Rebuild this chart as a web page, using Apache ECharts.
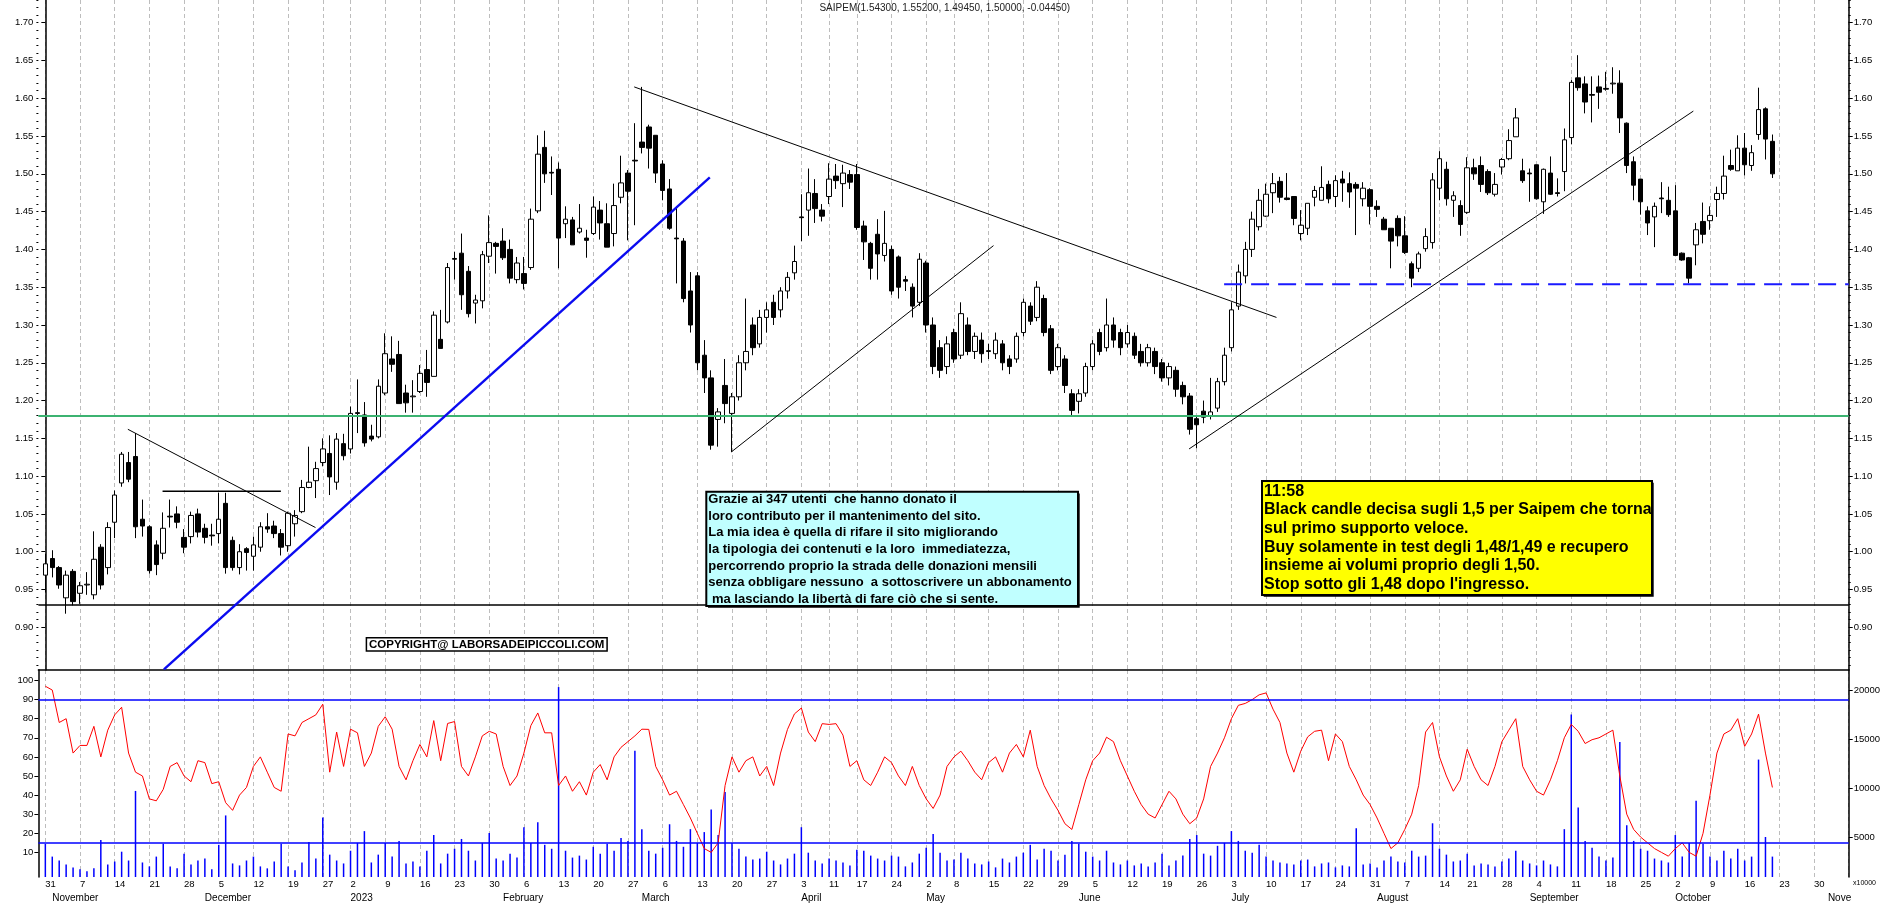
<!DOCTYPE html>
<html><head><meta charset="utf-8">
<script src="https://cdn.jsdelivr.net/npm/echarts@6/dist/echarts.min.js"></script>
<style>html,body{margin:0;padding:0;background:#fff}#c{width:1890px;height:903px}</style>
</head><body><div id="c"></div>
<script>
// ---------------- calendar (categories) ----------------
const calendarStart = '2022-10-28';
const calendarEnd = '2023-11-06';
const marketHolidays = ['2022-12-26','2023-04-07','2023-04-10','2023-05-01','2023-08-15'];
const firstCandleDate = '2022-10-31';
const monthNames = ['January','February','March','April','May','June','July','August','September','October','November','December'];

// ---------------- daily prices [open, high, low, close] from 2022-10-31 ----------------
const ohlc = [
[0.969,0.997,0.946,0.984],[0.991,1.002,0.966,0.979],[0.979,0.981,0.951,0.956],[0.939,0.975,0.918,0.969],[0.974,0.977,0.929,0.934],
[0.945,0.960,0.931,0.955],[0.956,0.973,0.943,0.957],[0.943,1.027,0.937,0.990],[1.006,1.010,0.950,0.956],[0.979,1.039,0.970,1.032],
[1.039,1.081,1.018,1.075],[1.091,1.132,1.086,1.129],[1.118,1.132,1.092,1.096],[1.126,1.157,1.018,1.033],[1.043,1.069,1.020,1.034],
[1.033,1.035,0.971,0.975],[1.009,1.015,0.969,0.983],[0.998,1.052,0.990,1.031],[1.047,1.069,1.032,1.046],[1.050,1.060,1.031,1.039],
[1.019,1.030,0.998,1.006],[1.020,1.053,1.011,1.048],[1.050,1.057,1.019,1.026],[1.031,1.037,1.011,1.019],[1.022,1.037,1.008,1.021],
[1.024,1.078,1.011,1.043],[1.064,1.078,0.971,0.979],[1.015,1.020,0.975,0.979],[0.979,1.010,0.970,1.000],[1.004,1.006,0.975,0.999],
[0.994,1.020,0.975,1.009],[1.006,1.039,1.000,1.033],[1.033,1.051,1.025,1.030],[1.034,1.041,1.018,1.024],[1.024,1.030,0.995,1.006],
[1.008,1.053,1.000,1.051],[1.037,1.055,1.020,1.048],[1.053,1.095,1.051,1.085],[1.085,1.139,1.084,1.092],[1.094,1.119,1.071,1.110],
[1.118,1.150,1.113,1.136],[1.130,1.154,1.075,1.099],[1.092,1.157,1.082,1.149],[1.143,1.156,1.121,1.127],[1.136,1.192,1.130,1.183],
[1.184,1.228,1.157,1.183],[1.181,1.198,1.139,1.144],[1.153,1.168,1.146,1.149],[1.152,1.228,1.150,1.219],[1.210,1.289,1.207,1.262],
[1.255,1.285,1.238,1.248],[1.261,1.279,1.196,1.196],[1.210,1.221,1.184,1.197],[1.205,1.227,1.184,1.206],[1.212,1.247,1.210,1.236],
[1.241,1.267,1.205,1.224],[1.232,1.318,1.232,1.313],[1.281,1.320,1.269,1.269],[1.304,1.382,1.302,1.376],[1.388,1.397,1.360,1.387],
[1.395,1.421,1.320,1.340],[1.371,1.378,1.310,1.315],[1.329,1.340,1.302,1.333],[1.332,1.398,1.322,1.393],[1.391,1.445,1.382,1.409],
[1.408,1.410,1.368,1.404],[1.411,1.428,1.386,1.389],[1.400,1.413,1.355,1.362],[1.360,1.390,1.355,1.382],[1.368,1.390,1.347,1.355],
[1.376,1.454,1.373,1.440],[1.451,1.551,1.448,1.526],[1.535,1.557,1.488,1.500],[1.502,1.523,1.472,1.501],[1.506,1.515,1.375,1.415],
[1.434,1.457,1.415,1.440],[1.439,1.443,1.406,1.406],[1.423,1.460,1.421,1.428],[1.415,1.426,1.389,1.412],[1.421,1.470,1.419,1.456],
[1.452,1.464,1.413,1.435],[1.434,1.461,1.403,1.403],[1.421,1.487,1.404,1.458],[1.469,1.524,1.461,1.488],[1.501,1.505,1.412,1.477],
[1.518,1.567,1.432,1.517],[1.542,1.615,1.527,1.535],[1.562,1.565,1.507,1.534],[1.551,1.551,1.488,1.501],[1.513,1.518,1.465,1.478],
[1.480,1.493,1.426,1.428],[1.415,1.457,1.355,1.414],[1.411,1.415,1.330,1.335],[1.345,1.370,1.290,1.300],[1.365,1.370,1.240,1.250],
[1.260,1.280,1.210,1.230],[1.230,1.240,1.135,1.141],[1.175,1.190,1.139,1.185],[1.220,1.255,1.170,1.196],[1.183,1.210,1.132,1.205],
[1.205,1.260,1.200,1.250],[1.250,1.335,1.240,1.265],[1.300,1.310,1.260,1.270],[1.275,1.320,1.270,1.310],[1.310,1.330,1.290,1.320],
[1.330,1.340,1.300,1.310],[1.320,1.350,1.310,1.345],[1.345,1.370,1.335,1.363],[1.369,1.405,1.360,1.384],[1.443,1.473,1.411,1.442],
[1.452,1.507,1.418,1.475],[1.474,1.493,1.435,1.454],[1.452,1.460,1.437,1.444],[1.470,1.514,1.460,1.493],[1.497,1.513,1.480,1.491],
[1.487,1.512,1.456,1.501],[1.499,1.505,1.480,1.489],[1.499,1.513,1.426,1.429],[1.431,1.438,1.386,1.410],[1.408,1.410,1.360,1.375],
[1.420,1.440,1.360,1.394],[1.392,1.451,1.384,1.408],[1.400,1.405,1.340,1.345],[1.390,1.392,1.335,1.350],[1.360,1.365,1.345,1.358],
[1.350,1.355,1.310,1.325],[1.330,1.395,1.325,1.387],[1.382,1.385,1.290,1.300],[1.300,1.310,1.235,1.245],[1.270,1.280,1.230,1.240],
[1.245,1.285,1.235,1.275],[1.290,1.295,1.250,1.255],[1.260,1.330,1.255,1.315],[1.300,1.310,1.260,1.265],[1.265,1.290,1.255,1.285],
[1.280,1.290,1.250,1.262],[1.266,1.275,1.255,1.265],[1.262,1.290,1.255,1.280],[1.275,1.280,1.240,1.250],[1.255,1.260,1.235,1.245],
[1.255,1.290,1.250,1.285],[1.290,1.335,1.285,1.330],[1.325,1.330,1.300,1.305],[1.310,1.358,1.305,1.350],[1.335,1.340,1.285,1.290],
[1.295,1.300,1.235,1.240],[1.245,1.275,1.240,1.270],[1.255,1.260,1.210,1.220],[1.209,1.215,1.180,1.187],[1.199,1.215,1.183,1.209],
[1.210,1.250,1.205,1.245],[1.245,1.280,1.240,1.275],[1.290,1.295,1.260,1.265],[1.270,1.335,1.265,1.300],[1.300,1.310,1.270,1.280],
[1.290,1.295,1.260,1.270],[1.275,1.300,1.270,1.290],[1.285,1.290,1.255,1.260],[1.265,1.275,1.245,1.250],[1.250,1.275,1.245,1.270],
[1.265,1.270,1.235,1.245],[1.250,1.255,1.225,1.230],[1.230,1.250,1.220,1.245],[1.240,1.245,1.205,1.215],[1.220,1.225,1.195,1.205],
[1.206,1.210,1.155,1.162],[1.176,1.180,1.137,1.168],[1.186,1.200,1.170,1.178],[1.180,1.230,1.175,1.185],[1.190,1.230,1.185,1.225],
[1.225,1.270,1.220,1.260],[1.270,1.330,1.265,1.320],[1.325,1.380,1.320,1.370],[1.365,1.410,1.355,1.400],[1.400,1.450,1.390,1.440],
[1.430,1.480,1.425,1.465],[1.444,1.487,1.443,1.473],[1.475,1.501,1.448,1.487],[1.490,1.496,1.462,1.469],[1.468,1.501,1.465,1.466],
[1.470,1.470,1.432,1.441],[1.421,1.452,1.412,1.432],[1.428,1.461,1.419,1.461],[1.469,1.484,1.457,1.478],[1.465,1.510,1.465,1.482],
[1.486,1.491,1.461,1.467],[1.470,1.498,1.456,1.491],[1.493,1.504,1.463,1.488],[1.487,1.502,1.455,1.476],[1.486,1.489,1.419,1.481],
[1.467,1.489,1.457,1.481],[1.479,1.481,1.433,1.457],[1.457,1.465,1.443,1.453],[1.440,1.443,1.426,1.426],[1.428,1.428,1.375,1.411],
[1.441,1.445,1.404,1.418],[1.418,1.444,1.394,1.396],[1.381,1.384,1.350,1.362],[1.375,1.397,1.370,1.394],[1.401,1.428,1.397,1.417],
[1.409,1.501,1.401,1.492],[1.481,1.530,1.465,1.520],[1.506,1.516,1.458,1.467],[1.465,1.477,1.443,1.471],[1.458,1.465,1.418,1.433],
[1.449,1.522,1.447,1.508],[1.508,1.520,1.492,1.500],[1.511,1.523,1.476,1.486],[1.503,1.506,1.472,1.475],[1.473,1.501,1.470,1.486],
[1.509,1.521,1.499,1.519],[1.520,1.559,1.518,1.544],[1.549,1.587,1.549,1.574],[1.504,1.520,1.488,1.491],[1.501,1.507,1.463,1.500],
[1.512,1.512,1.466,1.467],[1.463,1.507,1.447,1.506],[1.501,1.523,1.472,1.473],[1.475,1.494,1.470,1.474],[1.503,1.560,1.477,1.545],
[1.548,1.624,1.539,1.621],[1.627,1.657,1.610,1.614],[1.619,1.629,1.580,1.595],[1.605,1.629,1.568,1.604],[1.615,1.630,1.586,1.608],
[1.613,1.635,1.610,1.612],[1.619,1.641,1.606,1.620],[1.620,1.637,1.554,1.574],[1.567,1.568,1.501,1.511],[1.516,1.523,1.465,1.485],
[1.493,1.493,1.446,1.463],[1.451,1.457,1.419,1.435],[1.443,1.462,1.403,1.457],[1.468,1.489,1.448,1.467],[1.465,1.483,1.443,1.446],
[1.451,1.485,1.391,1.392],[1.395,1.396,1.385,1.386],[1.389,1.390,1.355,1.362],[1.406,1.435,1.379,1.426],[1.437,1.462,1.408,1.420],
[1.438,1.457,1.426,1.445],[1.466,1.483,1.443,1.474],[1.474,1.524,1.466,1.497],[1.511,1.532,1.504,1.506],[1.504,1.551,1.504,1.534],
[1.534,1.554,1.498,1.512],[1.511,1.538,1.504,1.528],[1.552,1.614,1.545,1.585],[1.586,1.588,1.519,1.546],[1.543,1.552,1.4945,1.500]
];

// ---------------- lower panel: oscillator (0-100) and volume ----------------
const oscillator = [
97,95,78,80,62,66,66,76,60,74, 82,86,62,52,50,38,37,43,55,57,
50,47,58,57,46,47,36,32,40,44, 55,60,52,44,42,72,71,78,80,82,
87.6,52,73,55,74.5,72.6,55,62,76,81, 74.5,55,48,58,66.5,60,79,58,77.5,78.5,
55,50,60,71,73.4,72,55,45,50,62, 76.4,83,72.6,72.6,45,50,42,47,40,52,
56,48,60,65,68,71,74.5,74.4,55,48, 40,42,35,28,20,12,10,15,45,60,
52,58,60,50,55,45,62,74.4,82.5,85.6, 73,68,77.4,77,77.4,71.4,55,58,48,45,
52,60,57,50,45,55,45,38,33,40, 55,60,63,58,52,48,57,60,52,62,
66.5,60,74,55,45,38,32,25,22,35, 48,58,62,70.3,68,58,50,42,35,30,
28,35,42,38,30,25,28,38,55,62, 70,80,87,88,90,92.5,93.5,85,78,62,
52,63,70.5,73.4,74,58,72,68,55,48, 40,35,28,20,12,15,22,30,45,73,
78,60,50,42,48,64,55,48,45,55, 68,74,80,55,48,42,40,48,58,70,
77,73.4,67,69,70,72,74,50,30,22, 18,15,12,10,8,12,15,10,8,20,
40,62,72,74,80,65.5,72,82.4,62,44
];
const volume = [
4300,3000,2600,2200,1900,1700,1500,1800,4700,2200, 2500,3500,2600,9700,2400,2000,3000,4300,2000,1800,
3300,2200,2600,2800,1700,4200,7200,2300,2100,2600, 3000,2000,1800,2500,4300,2000,1600,2400,4500,2800,
7000,3200,2600,2300,3600,4400,5600,2400,3200,4400, 3000,4600,2300,2500,2000,3600,5200,2300,3300,3800,
4800,3600,2600,4400,5400,2800,2600,3300,2900,6000, 4400,6500,4200,3800,20300,3600,2900,3100,2700,4000,
3300,4300,3600,4900,4600,13800,5800,3600,3300,3900, 6300,4600,4000,5800,4400,5500,7800,5200,9600,4400,
3800,3000,2700,2800,3500,2600,2200,2800,3300,6000, 3400,2600,2300,2800,2600,2400,2100,3700,3600,3100,
2800,2600,3100,3000,2000,2400,3300,3900,5300,3400, 2600,2700,3400,2800,2300,2200,2500,1900,2800,2400,
3000,3400,4200,2700,3800,3600,2600,3200,4600,4300, 3500,3000,2600,3600,2400,2200,2600,2100,2300,2000,
2400,3300,2100,2600,3100,4800,5200,3300,3100,4100, 4400,5600,4600,3600,3400,4200,3000,2600,2400,2300,
2200,2600,2700,2000,2300,2400,1900,2100,2000,5900, 2200,2300,1900,2600,3000,2500,2400,3600,3000,3100,
6400,3800,3200,2500,2600,3300,2100,2300,2200,2000, 2500,2800,3600,2600,2300,2100,2600,2200,2000,5800,
17500,8000,4600,3900,3000,2600,2900,14700,6200,4600, 3800,3600,2800,2600,2400,5200,3000,4400,8700,4300,
3000,2600,3600,2800,3800,2600,3000,12900,5000,3000
];

// ---------------- axes ----------------
const priceRange = [0.8435, 1.730];
const priceTickLabels = [0.90,0.95,1.00,1.05,1.10,1.15,1.20,1.25,1.30,1.35,1.40,1.45,1.50,1.55,1.60,1.65,1.70];
const oscRange = [-2.9, 105.5];
const oscTickLabels = [10,20,30,40,50,60,70,80,90,100];
const volRange = [918, 22041];
const volTickLabels = [5000,10000,15000,20000];

// ---------------- drawn studies (x = trading-day index from 2022-10-31) ----------------
const greenLevel = [1.181];
const blackLevel = [0.9265];
const oscLevels = [90, 15];
const blueTrend = [[17.1, 0.8443], [95.8, 1.4954]];
const thinTrends = [
  [[11.9, 1.162], [38.95, 1.032]],
  [[84.9, 1.615], [177.5, 1.310]],
  [[98.9, 1.132], [136.7, 1.405]],
  [[164.9, 1.136], [237.6, 1.583]]
];
const flatLine = [[16.9, 1.080], [33.96, 1.080]];
const dashedLevel = [[169.95, 1.354], [260, 1.354]];

// ---------------- build ----------------
function buildTradingDays(s, e, hol) {
  const out = [];
  let t = Date.parse(s + 'T00:00:00Z');
  const end = Date.parse(e + 'T00:00:00Z');
  while (t <= end) {
    const d = new Date(t);
    const w = d.getUTCDay();
    const iso = d.toISOString().slice(0, 10);
    if (w !== 0 && w !== 6 && hol.indexOf(iso) < 0) out.push(iso);
    t += 86400000;
  }
  return out;
}
const dates = buildTradingDays(calendarStart, calendarEnd, marketHolidays);
const off = dates.indexOf(firstCandleDate);
const lastIdx = dates.length - 1;
const dow = dates.map(s => new Date(s + 'T00:00:00Z').getUTCDay());
const isWeekStart = dates.map((s, k) => k > 0 && dow[k] < dow[k - 1]);
const isMonthStart = dates.map((s, k) => k > 0 && s.slice(5, 7) !== dates[k - 1].slice(5, 7));
const xMin = -off, xMax = lastIdx - off;

const candleData = dates.map((s, k) => {
  const r = ohlc[k - off];
  return r ? [r[0], r[3], r[2], r[1]] : '-';
});
const oscData = dates.map((s, k) => { const v = oscillator[k - off]; return v == null ? '-' : v; });
const volData = dates.map((s, k) => { const v = volume[k - off]; return v == null ? '-' : v; });
const minorTicks = [];
for (let v = 85; v <= 173; v++) minorTicks.push(v / 100);

const FONT = 'Liberation Sans';
const gridL = 38.4, gridR = 41.3;
const dashStyle = { type: [4, 3], color: '#bdbdbd', width: 1 };

function valueAxis(grid, pos, range, labels, fmt) {
  return {
    type: 'value', gridIndex: grid, position: pos, min: range[0], max: range[1],
    axisLine: { show: true, lineStyle: { color: '#000', width: 1.5 } },
    axisTick: { show: true, length: 4, customValues: labels, lineStyle: { color: '#000' } },
    axisLabel: { show: true, customValues: labels, formatter: fmt, color: '#000', fontSize: 9.5, fontFamily: FONT, margin: 5 },
    splitLine: { show: false }
  };
}
function minorAxis(pos) {
  return {
    type: 'value', gridIndex: 0, position: pos, min: priceRange[0], max: priceRange[1],
    axisLine: { show: false },
    axisTick: { show: true, length: 2, customValues: minorTicks, lineStyle: { color: '#000' } },
    axisLabel: { show: false }, splitLine: { show: false }
  };
}

const lineSeries = (pts, color, width, type, z) => ({
  type: 'line', xAxisIndex: 2, yAxisIndex: 0, data: pts, symbol: 'none', silent: true,
  lineStyle: { color: color, width: width, type: type || 'solid' }, z: z || 5, animation: false
});

const option = {
  animation: false,
  backgroundColor: '#fff',
  grid: [
    { left: gridL, right: gridR, top: 0, height: 670 },
    { left: gridL, right: gridR, top: 670, bottom: 26 }
  ],
  xAxis: [
    { type: 'category', gridIndex: 0, data: dates, boundaryGap: false, position: 'bottom',
      axisLine: { show: true, lineStyle: { color: '#000', width: 1.5 } }, axisTick: { show: false }, axisLabel: { show: false },
      splitLine: { show: true, interval: (i) => isWeekStart[i], lineStyle: dashStyle } },
    { type: 'category', gridIndex: 1, data: dates, boundaryGap: false, position: 'bottom',
      axisLine: { show: false }, axisTick: { show: false },
      axisLabel: { show: true, interval: (i) => isWeekStart[i] && i < lastIdx, formatter: (v) => String(+v.slice(8, 10)),
        align: 'left', color: '#000', fontSize: 9.5, fontFamily: FONT, margin: 2 },
      splitLine: { show: true, interval: (i) => isWeekStart[i], lineStyle: dashStyle } },
    { type: 'value', gridIndex: 0, min: xMin, max: xMax, show: false },
    { type: 'category', gridIndex: 1, data: dates, boundaryGap: false, position: 'bottom', offset: 14,
      axisLine: { show: false }, axisTick: { show: false }, splitLine: { show: false },
      axisLabel: { show: true, interval: (i) => isMonthStart[i] && dates[i] < '2023-11-01',
        formatter: (v) => { const m = +v.slice(5, 7) - 1; return m === 0 ? v.slice(0, 4) : monthNames[m]; },
        align: 'left', color: '#000', fontSize: 10, fontFamily: FONT, margin: 2 } },
    { type: 'category', gridIndex: 1, data: dates, boundaryGap: false, position: 'bottom', offset: 14,
      axisLine: { show: false }, axisTick: { show: false }, splitLine: { show: false },
      axisLabel: { show: true, interval: (i) => dates[i] === '2023-11-01',
        formatter: (v) => monthNames[+v.slice(5, 7) - 1],
        width: 30, overflow: 'truncate', ellipsis: '',
        align: 'left', color: '#000', fontSize: 10, fontFamily: FONT, margin: 2 } }
  ],
  yAxis: [
    valueAxis(0, 'left', priceRange, priceTickLabels, v => v.toFixed(2)),
    valueAxis(0, 'right', priceRange, priceTickLabels, v => v.toFixed(2)),
    valueAxis(1, 'left', oscRange, oscTickLabels, v => String(v)),
    valueAxis(1, 'right', volRange, volTickLabels, v => String(v)),
    minorAxis('left'),
    minorAxis('right')
  ],
  series: [
    { type: 'candlestick', xAxisIndex: 0, yAxisIndex: 0, data: candleData, barWidth: 5,
      itemStyle: { color: '#ffffff', color0: '#000000', borderColor: '#000000', borderColor0: '#000000', borderWidth: 1 },
      z: 3,
      markLine: { silent: true, symbol: ['none', 'none'], label: { show: false }, animation: false,
        data: [
          { yAxis: greenLevel[0], lineStyle: { color: '#3cb371', width: 2.2, type: 'solid' } },
          { yAxis: blackLevel[0], lineStyle: { color: '#000', width: 1.5, type: 'solid' } }
        ] } },
    lineSeries(blueTrend, '#0b0bf0', 2.4, 'solid', 6),
    ...thinTrends.map(t => lineSeries(t, '#000', 1, 'solid', 6)),
    lineSeries(flatLine, '#000', 1.5, 'solid', 6),
    lineSeries(dashedLevel, '#1a1aff', 2, [18, 9], 6),
    { type: 'bar', xAxisIndex: 1, yAxisIndex: 3, data: volData, barWidth: 1.5, clip: true,
      itemStyle: { color: '#0000ff' }, silent: true, z: 2 },
    { type: 'line', xAxisIndex: 1, yAxisIndex: 2, data: oscData, symbol: 'none', silent: true,
      lineStyle: { color: '#ff0000', width: 1 }, z: 4,
      markLine: { silent: true, symbol: ['none', 'none'], label: { show: false }, animation: false,
        lineStyle: { color: '#0000ff', width: 1.5, type: 'solid' },
        data: oscLevels.map(v => ({ yAxis: v })) } }
  ],
  graphic: [
    { type: 'text', x: 944.8, y: 8.5, z: 50,
      style: { text: 'SAIPEM(1.54300, 1.55200, 1.49450, 1.50000, -0.04450)', fill: '#222',
        font: '10px "Liberation Sans"', align: 'center', verticalAlign: 'middle', textAlign: 'center', textVerticalAlign: 'middle' } },
    // cyan note
    { type: 'rect', z: 50, shape: { x: 708, y: 493.5, width: 371.7, height: 114.3 }, style: { fill: '#000' } },
    { type: 'rect', z: 51, shape: { x: 706.3, y: 491.7, width: 371.7, height: 114.3 }, style: { fill: '#c0ffff', stroke: '#000', lineWidth: 2 } },
    { type: 'text', x: 708.3, y: 491.4, z: 52,
      style: { text: 'Grazie ai 347 utenti  che hanno donato il\nloro contributo per il mantenimento del sito.\nLa mia idea è quella di rifare il sito migliorando\nla tipologia dei contenuti e la loro  immediatezza,\npercorrendo proprio la strada delle donazioni mensili\nsenza obbligare nessuno  a sottoscrivere un abbonamento\n ma lasciando la libertà di fare ciò che si sente.',
        fill: '#000', font: 'bold 13px "Liberation Sans"', lineHeight: 16.6, align: 'left', verticalAlign: 'top', textAlign: 'left', textVerticalAlign: 'top' } },
    // yellow note
    { type: 'rect', z: 50, shape: { x: 1263.7, y: 482.7, width: 390, height: 114 }, style: { fill: '#000' } },
    { type: 'rect', z: 51, shape: { x: 1262, y: 481, width: 390, height: 114 }, style: { fill: '#ffff00', stroke: '#000', lineWidth: 2 } },
    { type: 'text', x: 1264, y: 481.8, z: 52,
      style: { text: "11:58\nBlack candle decisa sugli 1,5 per Saipem che torna\nsul primo supporto veloce.\nBuy solamente in test degli 1,48/1,49 e recupero\ninsieme ai volumi proprio degli 1,50.\nStop sotto gli 1,48 dopo l'ingresso.",
        fill: '#000', font: 'bold 16px "Liberation Sans"', lineHeight: 18.7, align: 'left', verticalAlign: 'top', textAlign: 'left', textVerticalAlign: 'top' } },
    // copyright
    { type: 'rect', z: 51, shape: { x: 366.4, y: 637.7, width: 240.7, height: 13.3 }, style: { fill: '#fff', stroke: '#000', lineWidth: 1.5 } },
    { type: 'text', x: 486.7, y: 644.6, z: 52,
      style: { text: 'COPYRIGHT@ LABORSADEIPICCOLI.COM', fill: '#000', font: 'bold 11.5px "Liberation Sans"',
        align: 'center', verticalAlign: 'middle', textAlign: 'center', textVerticalAlign: 'middle' } },
    { type: 'text', x: 1853, y: 883, z: 52,
      style: { text: 'x10000', fill: '#000', font: '7px "Liberation Sans"', align: 'left', verticalAlign: 'middle', textAlign: 'left', textVerticalAlign: 'middle' } }
  ]
};

const chart = echarts.init(document.getElementById('c'), null, { renderer: 'canvas', width: 1890, height: 903 });
chart.setOption(option);
</script>
</body></html>
